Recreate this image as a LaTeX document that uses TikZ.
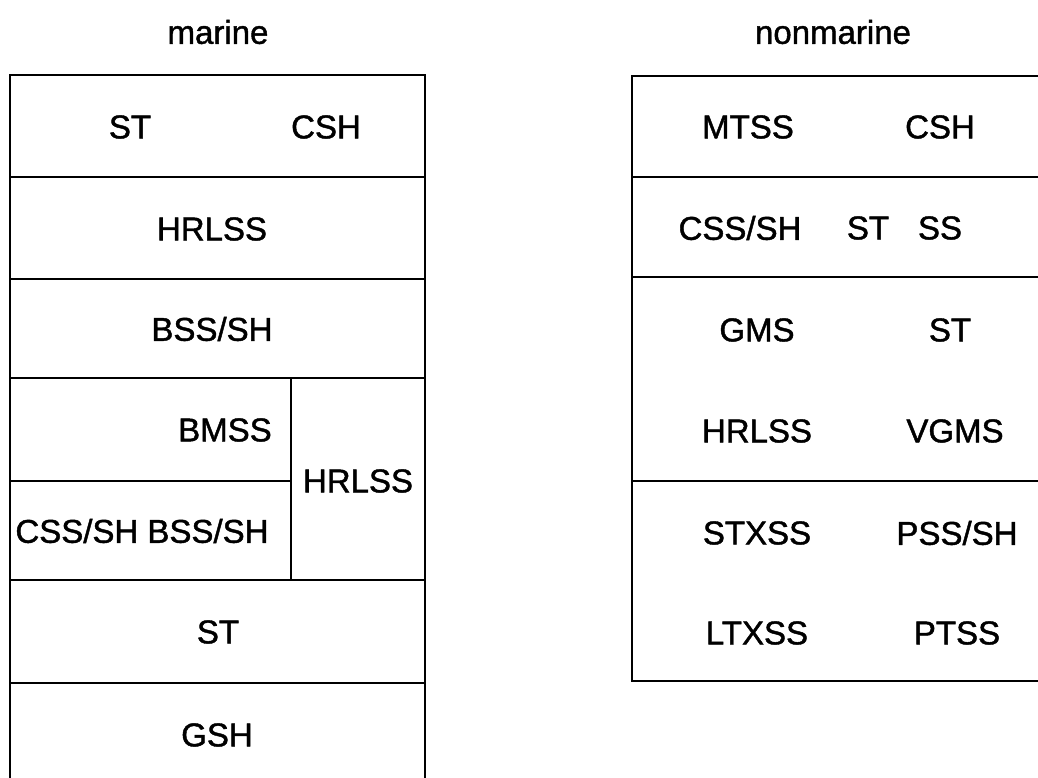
\documentclass[tikz,border=0pt]{standalone}
\usepackage{fontspec}
\setmainfont{Liberation Sans}
\newfontfamily\scanfont{Liberation Sans}[FakeBold=1.3]
\tikzset{
  lbl/.style={font=\scanfont\fontsize{33}{40}\selectfont, inner sep=0pt},
  ttl/.style={font=\scanfont\fontsize{33}{40}\selectfont, inner sep=0pt},
  bed/.style={line width=2pt}
}
\begin{document}
\begin{tikzpicture}[x=1pt, y=-1pt]
    \useasboundingbox (0,0) rectangle (1038,778);

    % titles
    \node[ttl] (tmar) at (218,32) {marine};
    \node[ttl] (tnon) at (833,32) {nonmarine};

    % marine column
    \draw[bed] (10,800) -- (10,75) -- (425,75) -- (425,800);
    \foreach \y in {177,279,378,580,683}
        \draw[bed] (10,\y) -- (425,\y);
    \draw[bed] (10,481) -- (291,481);
    \draw[bed] (291,378) -- (291,580);

    \node[lbl] (m1a) at (130,127) {ST};
    \node[lbl] (m1b) at (326,127) {CSH};
    \node[lbl] (m2) at (212,229) {HRLSS};
    \node[lbl] (m3) at (212,329) {BSS/SH};
    \node[lbl] (m4) at (225,430) {BMSS};
    \node[lbl] (m5) at (142,531) {CSS/SH BSS/SH};
    \node[lbl] (m6) at (358,481) {HRLSS};
    \node[lbl] (m7) at (218,632) {ST};
    \node[lbl] (m8) at (217,735) {GSH};

    % nonmarine column
    \draw[bed] (1060,76) -- (632,76) -- (632,681) -- (1060,681);
    \foreach \y in {177,277,481}
        \draw[bed] (632,\y) -- (1060,\y);

    \node[lbl] (n1a) at (748,127) {MTSS};
    \node[lbl] (n1b) at (940,127) {CSH};
    \node[lbl] (n2a) at (740,228) {CSS/SH};
    \node[lbl] (n2b) at (868,228) {ST};
    \node[lbl] (n2c) at (940,228) {SS};
    \node[lbl] (n3a) at (757,330) {GMS};
    \node[lbl] (n3b) at (950,330) {ST};
    \node[lbl] (n3c) at (757,431) {HRLSS};
    \node[lbl] (n3d) at (955,431) {VGMS};
    \node[lbl] (n4a) at (757,533) {STXSS};
    \node[lbl] (n4b) at (957,533) {PSS/SH};
    \node[lbl] (n4c) at (757,633) {LTXSS};
    \node[lbl] (n4d) at (957,633) {PTSS};
\end{tikzpicture}
\end{document}
